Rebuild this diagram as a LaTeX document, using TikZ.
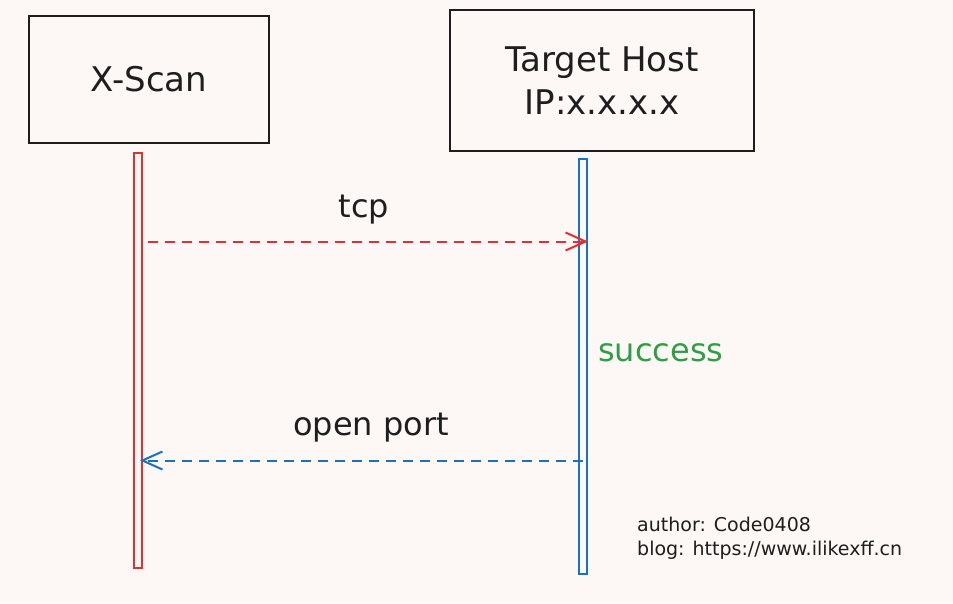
\documentclass[tikz,border=0pt]{standalone}
\usepackage{fontspec}
\setmainfont{DejaVu Sans}
\usetikzlibrary{arrows.meta}
\definecolor{bg}{HTML}{FDF8F6}
\definecolor{ink}{HTML}{1E1E1E}
\definecolor{xred}{HTML}{E03131}
\definecolor{xblue}{HTML}{1971C2}
\definecolor{xgreen}{HTML}{2F9E44}
\begin{document}
\begin{tikzpicture}[x=1pt,y=-1pt,
  actor/.style={draw=ink, line width=2pt, inner sep=0pt, align=center, text=ink, font=\fontsize{34}{43}\selectfont},
  life/.style={draw=#1, line width=2pt, inner sep=0pt, minimum width=8pt},
  msg/.style={draw=#1, line width=2pt, dash pattern=on 10pt off 7pt, -{Straight Barb[length=20pt,width=18pt,line width=2pt]}},
  lbl/.style={text=ink, font=\fontsize{32}{38}\selectfont, inner sep=0pt},
  note/.style={text=ink, font=\fontsize{19}{24}\selectfont, inner sep=0pt, align=left, anchor=west}
]
\fill[bg] (0,0) rectangle (953,603);
\useasboundingbox (0,0) rectangle (953,603);
\node[actor, minimum width=240pt, minimum height=127pt] (xscan) at (149,79.5) {X-Scan};
\node[actor, minimum width=304pt, minimum height=141pt] (host) at (602,80.5) {Target Host\\IP:x.x.x.x};
\node[life=xred, minimum height=415pt] (xl) at (138,360.5) {};
\node[life=xblue, minimum height=415pt] (hl) at (583,366.5) {};
\coordinate (tcpy) at (0,241.5);
\coordinate (opy) at (0,460.5);
\draw[msg=xred, shorten <=5pt] (xl.east |- tcpy) -- (hl.east |- tcpy);
\draw[msg=xblue] (hl.center |- opy) -- ([xshift=2pt]xl.center |- opy);
\node[lbl] (tcp) at (364,210) {tcp};
\node[lbl] (op) at (371,428) {open port};
\node[lbl, text=xgreen, anchor=west] (succ) at (598,353) {success};
\node[note] (auth) at (637,538) {author: Code0408\\blog: https://www.ilikexff.cn};
\end{tikzpicture}
\end{document}
